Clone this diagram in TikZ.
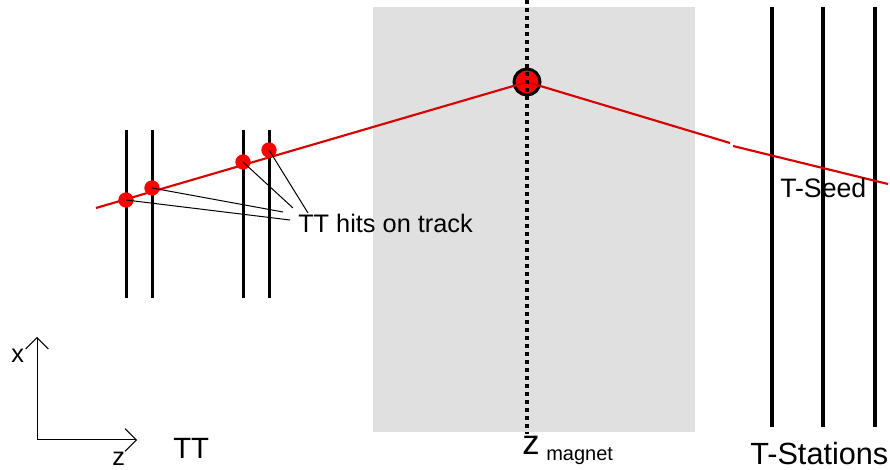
\documentclass[tikz,border=0pt]{standalone}
\usepackage{fontspec}
\setmainfont{Liberation Sans}
\usetikzlibrary{arrows.meta,positioning}

\definecolor{magnetgrey}{RGB}{224,224,224}
\definecolor{trackred}{RGB}{215,0,0}

\begin{document}
\begin{tikzpicture}[x=0.75pt,y=-0.75pt,
station/.style={line width=2.25pt},
tstation/.style={line width=3pt},
track/.style={trackred,line width=1.6pt},
hit/.style={circle,fill=red,inner sep=0pt,minimum size=11.5pt},
leader/.style={line width=0.75pt},
axis/.style={line width=0.75pt,-{Straight Barb[length=8.5pt,width=17pt]}},
lbl/.style={anchor=base west,inner sep=0pt}]
\useasboundingbox (0,0) rectangle (890,470);
% magnet region
\fill[magnetgrey] (373,7) rectangle (695,432);
% TT stations
\foreach \z in {126,152,243,269}
  \draw[station] (\z,130) -- (\z,298);
% T stations
\foreach \z in {772,823,875}
  \draw[tstation] (\z,7) -- (\z,427);
% track
\coordinate (start) at (96,208);
\coordinate (kinkA) at (730,143);
\coordinate (kinkB) at (733,146);
\coordinate (end) at (888,184);
\node[circle,draw,line width=2.25pt,fill=red,inner sep=0pt,minimum size=19.5pt] (magnet) at (527,82) {};
\draw[track] (start) -- (magnet.center) -- (kinkA);
\draw[track] (kinkB) -- (end);
\draw[line width=3.5pt,dash pattern=on 3pt off 3pt] (527,0) -- (527,434);
% hits
\node[hit] (hitA) at (126,200) {};
\node[hit] (hitB) at (152,188) {};
\node[hit] (hitC) at (243,162) {};
\node[hit] (hitD) at (269,150) {};
\node[lbl,font=\fontsize{19}{19}\selectfont] (hits) at (298,233) {TT hits on track};
\coordinate (legA) at (290,220);
\coordinate (legB) at (283,212);
\coordinate (legC) at (293,208);
\coordinate (legD) at (308,213);
\draw[leader] (hitA.center) -- (legA);
\draw[leader] (hitB.center) -- (legB);
\draw[leader] (hitC.center) -- (legC);
\draw[leader] (hitD.center) -- (legD);
\node[lbl,font=\fontsize{20}{20}\selectfont] (seed) at (780,198) {T-Seed};
% axes
\coordinate (origin) at (37,440);
\coordinate (xtip) at (37,337);
\coordinate (ztip) at (137,440);
\draw[axis] (origin) -- (xtip);
\draw[axis] (origin) -- (ztip);
\node[lbl,font=\fontsize{19}{19}\selectfont] (xlbl) at (11,363) {x};
\node[lbl,font=\fontsize{19}{19}\selectfont] (zlbl) at (112,466) {z};
\node[lbl,font=\fontsize{22}{22}\selectfont] (ttlbl) at (173,459) {TT};
\node[lbl,font=\fontsize{26}{26}\selectfont] (zmag) at (522,455) {z\hspace{5pt}\raisebox{-4pt}{\fontsize{15}{15}\selectfont magnet}};
\node[lbl,font=\fontsize{23}{23}\selectfont] (tst) at (750,465) {T-Stations};
\end{tikzpicture}
\end{document}
